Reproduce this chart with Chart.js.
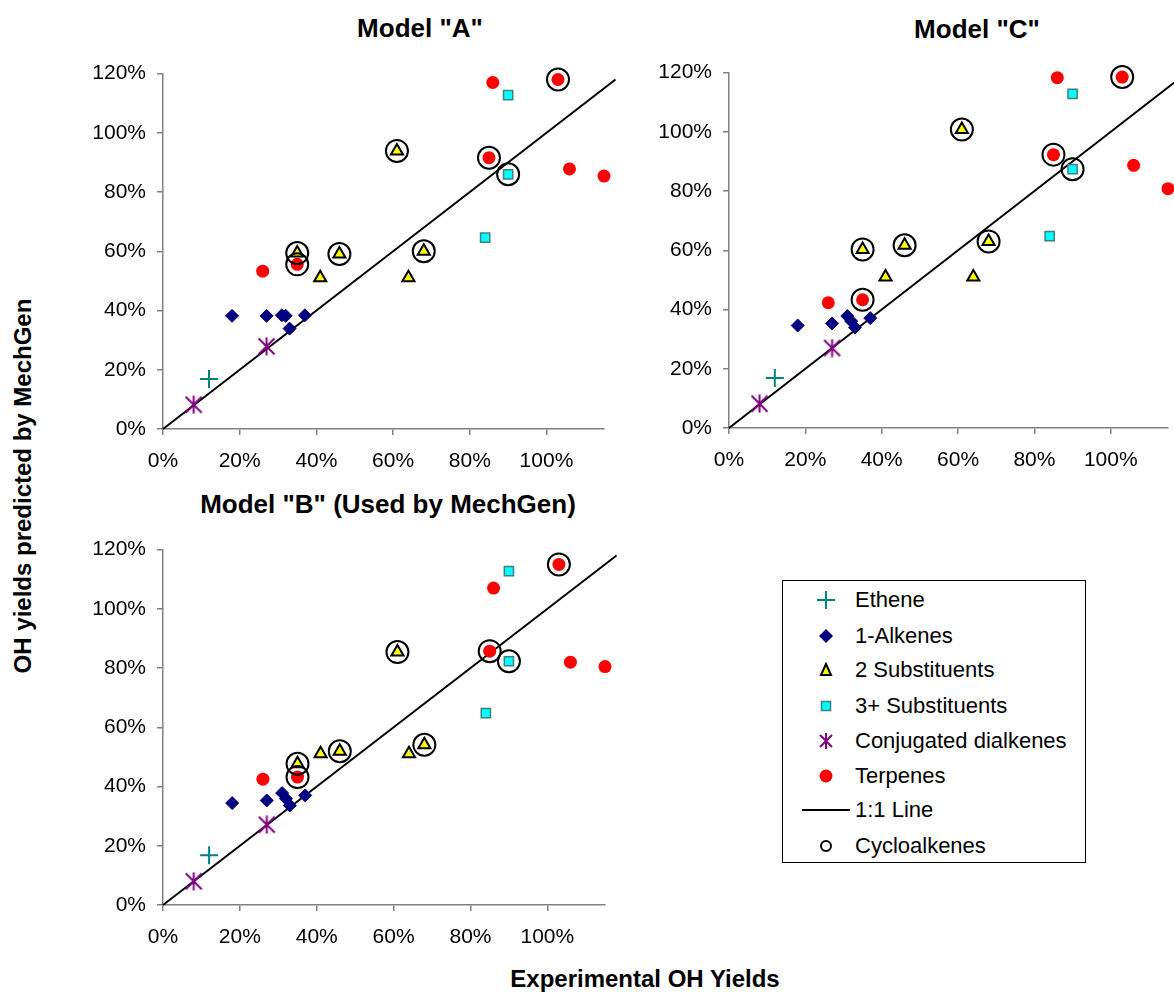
<!DOCTYPE html>
<html>
<head>
<meta charset="utf-8">
<script src="https://cdn.jsdelivr.net/npm/chart.js@4.4.1/dist/chart.umd.min.js"></script>
<style>
  body { margin: 0; background: #fff; font-family: 'Liberation Sans', Arial, sans-serif; overflow: hidden; }
  #page { position: relative; width: 1174px; height: 992px; overflow: hidden; }
  .box { position: absolute; }
  .title { position: absolute; font-weight: bold; font-size: 26px; white-space: nowrap; transform: translate(-50%, -50%); }
  .axisTitle { position: absolute; font-weight: bold; font-size: 24px; white-space: nowrap; transform: translate(-50%, -50%); }
  #legend { position: absolute; left: 782px; top: 580px; width: 302px; height: 281px; border: 1px solid #000; }
  .row { position: absolute; left: 0; height: 30px; width: 300px; }
  .row svg { position: absolute; left: 13px; top: 0; }
  .row span { position: absolute; left: 72px; top: 2px; font-size: 22px; line-height: 26px; }
</style>
</head>
<body>
<div id="page">
  <div class="title" style="left:420px; top:28px;">Model "A"</div>
  <div class="title" style="left:977px; top:29px;">Model "C"</div>
  <div class="title" style="left:388px; top:504px;">Model "B" (Used by MechGen)</div>
  <div class="axisTitle" style="left:23px; top:486px; transform:translate(-50%,-50%) rotate(-90deg);">OH yields predicted by MechGen</div>
  <div class="axisTitle" style="left:645px; top:979px;">Experimental OH Yields</div>

  <div class="box" style="left:73px; top:50px; width:545px; height:424px;"><canvas id="chartA"></canvas></div>
  <div class="box" style="left:639px; top:49px; width:545px; height:424px;"><canvas id="chartC"></canvas></div>
  <div class="box" style="left:73px; top:526px; width:545px; height:424px;"><canvas id="chartB"></canvas></div>

  <div id="legend"></div>
</div>

<script>
// experimental yields (x, %) and predicted yields for each model (y, %)
const xTicks = [0, 20, 40, 60, 80, 100];
const yTicks = [0, 20, 40, 60, 80, 100, 120];

const etheneX = [12];
const etheneA = [16.9];
const etheneB = [16.8];
const etheneC = [16.9];

const alkenesX = [18, 27, 31, 32, 33, 37];
const alkenesA = [38.2, 38.2, 38.4, 38.2, 33.9, 38.4];
const alkenesB = [34.4, 35.3, 37.8, 35.9, 33.6, 37.0];
const alkenesC = [34.6, 35.3, 37.8, 36.1, 33.9, 37.1];

const subs2X = [35, 41, 46, 61, 64, 68];
const subs2A = [59.4, 51.1, 59.1, 93.9, 51.1, 60.0];
const subs2B = [47.7, 51.1, 51.9, 85.4, 51.1, 54.1];
const subs2C = [60.3, 51.0, 61.7, 100.8, 51.0, 63.0];

const subs3X = [84, 90, 90];
const subs3A = [64.6, 112.7, 86.0];
const subs3B = [64.8, 112.7, 82.3];
const subs3C = [64.8, 112.8, 87.4];

const dienesX = [8, 27];
const dienesA = [8.2, 27.9];
const dienesB = [8.0, 27.1];
const dienesC = [8.2, 27.0];

const terpenesX = [26, 35, 85, 86, 103, 106, 115];
const terpenesA = [53.3, 55.6, 91.6, 117.0, 118.0, 87.8, 85.4];
const terpenesB = [42.5, 43.2, 85.7, 107.0, 115.0, 82.0, 80.5];
const terpenesC = [42.3, 43.3, 92.3, 118.3, 118.5, 88.7, 80.8];

const cycloX = [35, 35, 46, 61, 68, 85, 90, 103];
const cycloA = [59.4, 55.6, 59.1, 93.9, 60.0, 91.6, 86.0, 118.0];
const cycloB = [47.7, 43.2, 51.9, 85.4, 54.1, 85.7, 82.3, 115.0];
const cycloC = [60.3, 43.3, 61.7, 100.8, 63.0, 92.3, 87.4, 118.5];

const lineX = [0, 118];
const lineY = [0, 118];

const FONT = "'Liberation Sans', Arial, sans-serif";

// Excel style star marker: X plus a vertical bar
function starMarker(size) {
    const c = document.createElement('canvas');
    c.width = size; c.height = size;
    const g = c.getContext('2d');
    const m = size / 2, r = size / 2 - 1.5;
    g.strokeStyle = '#800080';
    g.lineWidth = 2;
    g.beginPath();
    g.moveTo(m - r, m - r); g.lineTo(m + r, m + r);
    g.moveTo(m - r, m + r); g.lineTo(m + r, m - r);
    g.moveTo(m, m - r - 1); g.lineTo(m, m + r + 1);
    g.stroke();
    return c;
}
const star = starMarker(19);

function pts(xs, ys) {
    return xs.map((x, i) => ({ x: x, y: ys[i] }));
}

function axis(max, ticks, isX) {
    return {
        type: 'linear',
        min: 0,
        max: max,
        afterBuildTicks: s => { s.ticks = ticks.map(v => ({ value: v })); },
        afterFit: s => { if (isX) s.height = 45; else s.width = 90; },
        ticks: {
            callback: v => v + '%',
            color: '#000',
            font: { size: 21, family: FONT },
            padding: isX ? 14 : 11,
            autoSkip: false,
            maxRotation: 0
        },
        grid: { drawOnChartArea: false, drawTicks: true, tickLength: 6, color: '#808080', lineWidth: 1.5 },
        border: { color: '#808080', width: 1.5 }
    };
}

function makeChart(id, eth, alk, s2, s3, dien, terp, cyc, padRight) {
    const ctx = document.getElementById(id).getContext('2d');
    return new Chart(ctx, {
        type: 'scatter',
        data: {
            datasets: [
                {
                    label: 'Cycloalkenes', data: pts(cycloX, cyc), order: 0, clip: false,
                    pointStyle: 'circle', pointRadius: 11, backgroundColor: 'rgba(0,0,0,0)',
                    borderColor: '#000', pointBorderWidth: 2
                },
                {
                    label: 'Terpenes', data: pts(terpenesX, terp), order: 1, clip: false,
                    pointStyle: 'circle', pointRadius: 6.5, backgroundColor: '#ff0000',
                    borderColor: '#ff0000', pointBorderWidth: 0
                },
                {
                    label: '2 Substituents', data: pts(subs2X, s2), order: 2, clip: false,
                    pointStyle: 'triangle', pointRadius: 7, backgroundColor: '#ffff00',
                    borderColor: '#000', pointBorderWidth: 2
                },
                {
                    label: '3+ Substituents', data: pts(subs3X, s3), order: 3, clip: false,
                    pointStyle: 'rect', pointRadius: 6.5, backgroundColor: '#00ffff',
                    borderColor: '#408080', pointBorderWidth: 1.5
                },
                {
                    label: '1-Alkenes', data: pts(alkenesX, alk), order: 4, clip: false,
                    pointStyle: 'rectRot', pointRadius: 6.5, backgroundColor: '#000080',
                    borderColor: '#000080', pointBorderWidth: 1
                },
                {
                    label: 'Conjugated dialkenes', data: pts(dienesX, dien), order: 5, clip: false,
                    pointStyle: star, pointRadius: 9
                },
                {
                    label: 'Ethene', data: pts(etheneX, eth), order: 6, clip: false,
                    pointStyle: 'cross', pointRadius: 9, borderColor: '#008080', pointBorderWidth: 2
                },
                {
                    label: '1:1 Line', type: 'line', data: pts(lineX, lineY), order: 7, clip: false,
                    borderColor: '#000', borderWidth: 2, pointRadius: 0, fill: false
                }
            ]
        },
        options: {
            responsive: true,
            maintainAspectRatio: false,
            animation: false,
            events: [],
            layout: { padding: { left: 0, right: padRight, top: 0, bottom: 0 } },
            scales: {
                x: axis(115, xTicks, true),
                y: axis(120, yTicks, false)
            },
            plugins: {
                legend: { display: false },
                tooltip: { enabled: false }
            }
        }
    });
}

makeChart('chartA', etheneA, alkenesA, subs2A, subs3A, dienesA, terpenesA, cycloA, 14);
makeChart('chartC', etheneC, alkenesC, subs2C, subs3C, dienesC, terpenesC, cycloC, 16);
makeChart('chartB', etheneB, alkenesB, subs2B, subs3B, dienesB, terpenesB, cycloB, 12);

// legend
const legendNames = ['Ethene', '1-Alkenes', '2 Substituents', '3+ Substituents',
    'Conjugated dialkenes', 'Terpenes', '1:1 Line', 'Cycloalkenes'];
const legendIcons = [
    '<path d="M30 6 V24 M21 15 H39" stroke="#008080" stroke-width="2"/>',
    '<path d="M30 8 L37 15 L30 22 L23 15 Z" fill="#000080"/>',
    '<path d="M30 9 L35 20 L25 20 Z" fill="#ffff00" stroke="#000" stroke-width="2"/>',
    '<rect x="25.5" y="10.5" width="9" height="9" fill="#00ffff" stroke="#408080" stroke-width="1.5"/>',
    '<path d="M24 9 L36 21 M24 21 L36 9 M30 7 V23" stroke="#800080" stroke-width="2"/>',
    '<circle cx="30" cy="15" r="6.5" fill="#ff0000"/>',
    '<path d="M6 15 H54" stroke="#000" stroke-width="2"/>',
    '<circle cx="30" cy="15" r="5" fill="none" stroke="#000" stroke-width="2"/>'
];
const rowCenters = [19, 55, 89, 125, 160, 195, 229, 265];
const legend = document.getElementById('legend');
legendNames.forEach((name, i) => {
    const row = document.createElement('div');
    row.className = 'row';
    row.style.top = (rowCenters[i] - 15) + 'px';
    row.innerHTML = '<svg width="60" height="30">' + legendIcons[i] + '</svg><span>' + name + '</span>';
    legend.appendChild(row);
});
</script>
</body>
</html>
